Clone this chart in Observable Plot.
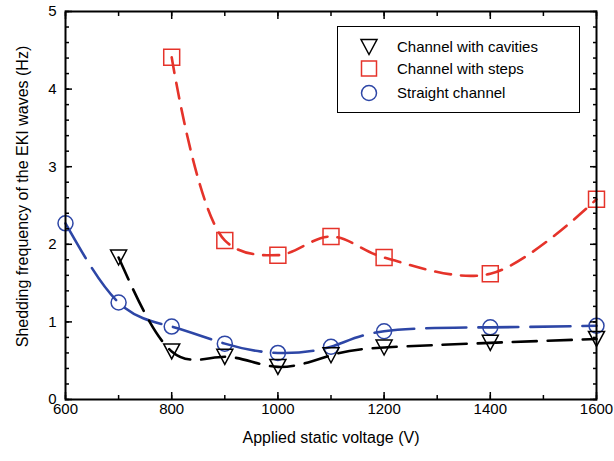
<!DOCTYPE html>
<html><head><meta charset="utf-8">
<script src="https://cdn.jsdelivr.net/npm/d3@7"></script>
<script src="https://cdn.jsdelivr.net/npm/@observablehq/plot@0.6"></script>
<style>
body{margin:0;background:#fff;font-family:"Liberation Sans",Arial,sans-serif;}
#wrap{position:relative;width:614px;height:461px;}
#legend{position:absolute;left:337px;top:26px;width:243px;height:87px;border:1.5px solid #000;background:#fff;box-sizing:border-box;font-size:15px;color:#000;}
.row{position:absolute;left:0;height:22px;width:240px;}
.row svg{position:absolute;left:21px;top:0;}
.row span{position:absolute;left:59px;top:2px;white-space:nowrap;}
</style></head><body><div id="wrap"></div>
<script>
// ---- data ----
const cavitiesVoltage = [700, 800, 900, 1000, 1100, 1200, 1400, 1600];
const cavitiesFreq    = [1.83, 0.62, 0.55, 0.42, 0.57, 0.67, 0.73, 0.78];
const stepsVoltage    = [800, 900, 1000, 1100, 1200, 1400, 1600];
const stepsFreq       = [4.41, 2.05, 1.86, 2.10, 1.83, 1.62, 2.58];
const straightVoltage = [600, 700, 800, 900, 1000, 1100, 1200, 1400, 1600];
const straightFreq    = [2.27, 1.25, 0.94, 0.72, 0.60, 0.68, 0.88, 0.93, 0.95];
const seriesNames = ["Channel with cavities", "Channel with steps", "Straight channel"];
const xTicks = [600, 800, 1000, 1200, 1400, 1600];
const yTicks = [0, 1, 2, 3, 4, 5];
const xMinor = d3.range(600, 1601, 100);
const yMinor = d3.range(0, 26).map(i => i / 5);
const xLabel = "Applied static voltage (V)";
const yLabel = "Shedding frequency of the EKI waves (Hz)";

const RED = "#e5332a", BLUE = "#2d46a6", BLACK = "#000";
const toRows = (xs, ys) => xs.map((x, i) => ({x, y: ys[i]}));
const cav = toRows(cavitiesVoltage, cavitiesFreq);
const stp = toRows(stepsVoltage, stepsFreq);
const str = toRows(straightVoltage, straightFreq);

const triangleDown = {draw(ctx, size) {
  const r = Math.sqrt(size / Math.PI), w = r * 1.07, h = r;
  ctx.moveTo(-w, -h); ctx.lineTo(w, -h); ctx.lineTo(0, h); ctx.closePath();
}};

const chart = Plot.plot({
  width: 614, height: 461,
  marginLeft: 65, marginRight: 18, marginTop: 11, marginBottom: 62,
  style: {fontFamily: "'Liberation Sans', Arial, sans-serif", fontSize: "15px", background: "#fff", color: "#000"},
  x: {domain: [600, 1600]},
  y: {domain: [0, 5]},
  marks: [
    // curves
    Plot.line(stp, {x: "x", y: "y", curve: "catmull-rom", stroke: RED, strokeWidth: 2.6, strokeDasharray: "16,10"}),
    Plot.line(str, {x: "x", y: "y", curve: "natural", stroke: BLUE, strokeWidth: 2.6, strokeDasharray: "40,12"}),
    Plot.line(cav, {x: "x", y: "y", curve: "natural", stroke: BLACK, strokeWidth: 2.6, strokeDasharray: "24,11"}),
    // markers
    Plot.dot(stp, {x: "x", y: "y", symbol: "square", r: 9, stroke: RED, strokeWidth: 1.5, fill: "none"}),
    Plot.dot(str, {x: "x", y: "y", symbol: "circle", r: 7.5, stroke: BLUE, strokeWidth: 1.5, fill: "none"}),
    Plot.dot(cav, {x: "x", y: "y", symbol: triangleDown, r: 7.5, stroke: BLACK, strokeWidth: 1.5, fill: "none"}),
    // tick labels
    Plot.axisX({anchor: "bottom", ticks: xTicks, tickSize: 0, tickPadding: 4, tickFormat: d3.format("d"), label: null}),
    Plot.axisY({anchor: "left", ticks: yTicks, tickSize: 0, tickPadding: 9, tickFormat: d3.format("d"), label: null}),
    // inward ticks (major)
    Plot.axisX({anchor: "bottom", ticks: xTicks, tickSize: 7, dy: -7, fill: "none", label: null, strokeWidth: 1.5}),
    Plot.axisX({anchor: "top", ticks: xTicks, tickSize: 7, dy: 7, fill: "none", label: null, strokeWidth: 1.5}),
    Plot.axisY({anchor: "left", ticks: yTicks, tickSize: 7, dx: 7, fill: "none", label: null, strokeWidth: 1.5}),
    Plot.axisY({anchor: "right", ticks: yTicks, tickSize: 7, dx: -7, fill: "none", label: null, strokeWidth: 1.5}),
    // inward ticks (minor)
    Plot.axisX({anchor: "bottom", ticks: xMinor, tickSize: 4, dy: -4, fill: "none", label: null, strokeWidth: 1.5}),
    Plot.axisX({anchor: "top", ticks: xMinor, tickSize: 4, dy: 4, fill: "none", label: null, strokeWidth: 1.5}),
    Plot.axisY({anchor: "left", ticks: yMinor, tickSize: 4, dx: 4, fill: "none", label: null, strokeWidth: 1.5}),
    Plot.axisY({anchor: "right", ticks: yMinor, tickSize: 4, dx: -4, fill: "none", label: null, strokeWidth: 1.5}),
    Plot.frame({stroke: "#000", strokeWidth: 2}),
    // axis titles
    Plot.text([xLabel], {text: d => d, frameAnchor: "bottom", textAnchor: "middle", lineAnchor: "middle", dy: 38, fontSize: 16}),
    Plot.text([yLabel], {text: d => d, frameAnchor: "left", textAnchor: "middle", lineAnchor: "middle", dx: -43, dy: -9, rotate: -90, fontSize: 16})
  ]
});
const wrap = document.getElementById("wrap");
wrap.appendChild(chart);

// legend (inside plot area, top-right)
const legend = document.createElement("div");
legend.id = "legend";
const syms = [
  `<polygon points="2,3.5 18,3.5 10,18.5" fill="none" stroke="${BLACK}" stroke-width="1.5"/>`,
  `<rect x="2.5" y="3" width="15" height="15" fill="none" stroke="${RED}" stroke-width="1.5"/>`,
  `<circle cx="10" cy="11" r="7.5" fill="none" stroke="${BLUE}" stroke-width="1.5"/>`
];
const rowTops = [9, 31, 55];
seriesNames.forEach((name, i) => {
  const row = document.createElement("div");
  row.className = "row";
  row.style.top = rowTops[i] + "px";
  row.innerHTML = `<svg width="20" height="22">${syms[i]}</svg><span>${name}</span>`;
  legend.appendChild(row);
});
wrap.appendChild(legend);
</script></body></html>
